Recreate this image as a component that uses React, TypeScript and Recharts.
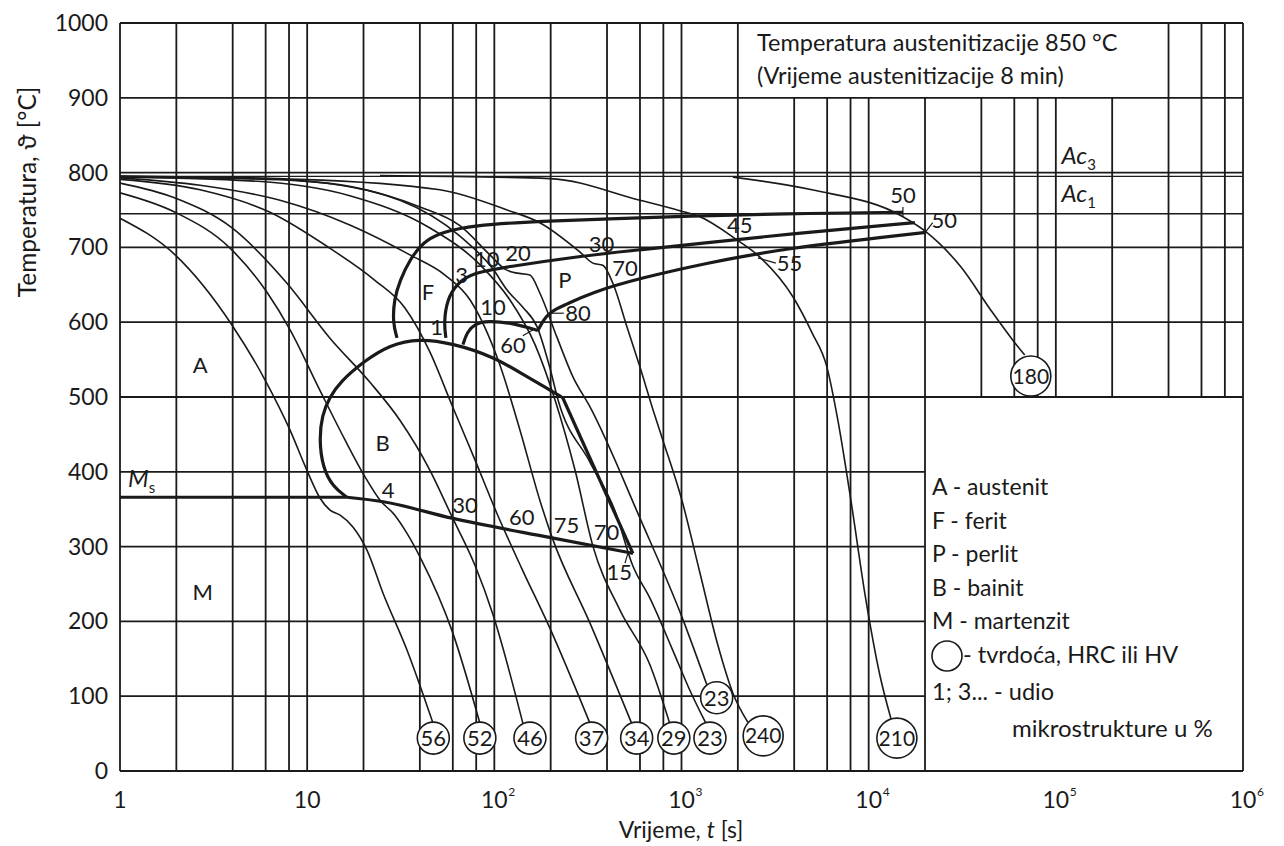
import React from 'react';
import { ComposedChart, Line, Scatter, XAxis, YAxis, ReferenceLine } from 'recharts';

type Pair = [number, number];

const INK = '#1a1a1a';

const timeTicks = [1, 10, 100, 1000, 10000, 100000, 1000000];
const tempTicks = [0, 100, 200, 300, 400, 500, 600, 700, 800, 900, 1000];

// printed grid: lines at 2, 4, 6, 8 of each decade, cut by the title and legend boxes
const gridFull = [2, 4, 6, 8, 10, 20, 40, 60, 80, 100, 200, 400, 600, 800, 1000, 2000];
const gridBelowTitle = [4000, 6000, 8000, 10000, 20000];
const gridAboveLegend = [40000, 60000, 80000, 100000, 200000];
const gridRight = [400000, 600000, 800000];
const tempFull = [500, 600, 700, 800, 900];
const tempLeft = [100, 200, 300, 400];
const acLines = [795, 745];

// cooling curves [t s, temperature °C], named after the hardness they end in
const cool56: Pair[] = [[1, 739], [1.97, 690], [3.97, 596], [5.95, 523], [8.09, 456], [9.97, 402], [11.7, 365], [13.2, 349], [15, 342], [17.6, 326], [20.9, 295], [25.4, 238], [34.1, 162], [47, 64]];
const cool52: Pair[] = [[1, 773], [1.97, 747], [3.87, 699], [6.1, 640], [8.09, 590], [11.7, 509], [15.9, 443], [20.4, 393], [24.5, 362], [29.4, 342], [34.1, 318], [40.1, 286], [60.1, 184], [83.7, 64]];
const cool46: Pair[] = [[1, 786], [1.97, 766], [3.97, 726], [7.8, 652], [13.2, 579], [21.6, 520], [31.3, 469], [45.3, 402], [59.4, 340], [78.8, 275], [98.4, 209], [142, 64]];
const cool37: Pair[] = [[1, 791], [2.68, 777], [6.33, 747], [13.2, 699], [23, 656], [33.3, 619], [45.3, 560], [59.4, 489], [78.8, 416], [103, 345], [140, 271], [198, 191], [324, 64]];
const cool34: Pair[] = [[1, 793], [2.68, 783], [7.16, 763], [16.9, 730], [35.4, 690], [54.5, 663], [74.1, 630], [107, 543], [137, 456], [175, 362], [203, 313], [324, 198], [543, 63]];
const cool29: Pair[] = [[1, 794], [4.95, 789], [16.9, 769], [45.3, 726], [83.7, 677], [121, 630], [165, 570], [211, 496], [270, 402], [336, 301], [469, 215], [678, 142], [867, 63]];
const cool23: Pair[] = [[1, 795], [9.15, 789], [31.3, 763], [65.5, 715], [98.4, 671], [117, 643], [142, 620], [169, 594], [198, 539], [219, 496], [324, 413], [441, 348], [550, 274], [678, 231], [889, 164], [1108, 108], [1349, 64]];
const cool23b: Pair[] = [[1, 795], [4.95, 793], [16.9, 781], [40.1, 754], [65.5, 729], [94.7, 690], [114, 671], [124, 667], [155, 663], [175, 639], [216, 580], [263, 527], [324, 487], [600, 338], [1005, 206], [1367, 115]];
const cool240: Pair[] = [[1, 795], [9.15, 791], [51.2, 777], [117, 750], [175, 733], [286, 694], [336, 679], [380, 676], [430, 652], [511, 594], [600, 540], [704, 483], [796, 442], [1005, 362], [1254, 265], [1565, 168], [1882, 104], [2264, 65]];
const cool210: Pair[] = [[24.5, 796], [198, 792], [600, 763], [980, 749], [1254, 741], [1977, 710], [2624, 687], [3937, 634], [4977, 586], [5984, 540], [6845, 469], [8035, 362], [9660, 229], [11480, 128], [13150, 70]];
const cool180: Pair[] = [[1882, 794], [4977, 777], [15240, 741], [19720, 723], [31070, 674], [44970, 616], [58900, 576], [68230, 556]];

// transformation lines
const ferriteStart: Pair[] = [[30.2, 579], [28.7, 599], [29.1, 630], [31.3, 656], [35.4, 684], [41.6, 707], [51.2, 719], [65.5, 726], [94.7, 731], [175, 735], [400, 738], [1108, 742], [3355, 745], [15240, 747]];
const pearliteStart: Pair[] = [[55.1, 579], [53.8, 599], [55.8, 630], [63.1, 652], [76.9, 666], [117, 674], [263, 687], [600, 697], [1367, 706], [3355, 717], [17650, 733]];
const pearliteEndLeft: Pair[] = [[68, 570], [71.4, 587], [78.8, 598], [91.2, 602], [126, 599], [171, 589]];
const pearliteEndRight: Pair[] = [[171, 589], [182, 602], [198, 614], [244, 624], [324, 639], [600, 659], [1367, 679], [3355, 698], [20230, 720]];
const bainiteNose: Pair[] = [[16.3, 366], [13.7, 380], [12.1, 406], [11.6, 443], [12, 476], [13.2, 500], [15, 520], [19.9, 547], [27.7, 570], [39.6, 578], [59.4, 572], [99.5, 554], [149, 527], [200, 509], [232, 499]];
const bainiteEdge: Pair[] = [[232, 499], [550, 291]];
const msFlat: Pair[] = [[1, 366], [16.3, 366]];
const msSlope: Pair[] = [[16.3, 366], [25.5, 360], [59.4, 338], [200, 312], [550, 291]];

// short leader strokes next to some numbers
const leaders: Pair[][] = [
  [[198, 612], [235, 612]],
  [[142, 582], [161, 590]],
  [[2560, 686], [3190, 679]],
  [[15240, 754], [15240, 741]],
  [[20200, 721], [22000, 733]],
  [[499, 278], [517, 291]],
];

const hardness = [
  { t: 47.2, T: 44, v: '56' },
  { t: 83.7, T: 44, v: '52' },
  { t: 155, T: 44, v: '46' },
  { t: 331, T: 44, v: '37' },
  { t: 576, T: 44, v: '34' },
  { t: 910, T: 44, v: '29' },
  { t: 1419, T: 44, v: '23' },
  { t: 1541, T: 98, v: '23' },
  { t: 2731, T: 47, v: '240' },
  { t: 14150, T: 44, v: '210' },
  { t: 73500, T: 528, v: '180' },
];

const notes = [
  { t: 44.2, T: 640, text: 'F' },
  { t: 49.2, T: 594, text: '1' },
  { t: 66.9, T: 663, text: '3' },
  { t: 91, T: 685, text: '10' },
  { t: 134, T: 692, text: '20' },
  { t: 374, T: 705, text: '30' },
  { t: 499, T: 672, text: '70' },
  { t: 238, T: 656, text: 'P' },
  { t: 98.4, T: 620, text: '10' },
  { t: 126, T: 569, text: '60' },
  { t: 280, T: 612, text: '80' },
  { t: 2050, T: 730, text: '45' },
  { t: 3776, T: 679, text: '55' },
  { t: 15240, T: 770, text: '50' },
  { t: 25350, T: 737, text: '50' },
  { t: 25.3, T: 438, text: 'B' },
  { t: 27.1, T: 376, text: '4' },
  { t: 69.7, T: 356, text: '30' },
  { t: 140, T: 340, text: '60' },
  { t: 243, T: 329, text: '75' },
  { t: 398, T: 320, text: '70' },
  { t: 465, T: 266, text: '15' },
  { t: 2.68, T: 543, text: 'A' },
  { t: 2.77, T: 239, text: 'M' },
];

const subLabels = [
  { t: 1.104, T: 380, base: 'M', sub: 's' },
  { t: 107200, T: 812, base: 'Ac', sub: '3' },
  { t: 107200, T: 761, base: 'Ac', sub: '1' },
];

const legendRows = ['A - austenit', 'F - ferit', 'P - perlit', 'B - bainit', 'M - martenzit'];

const toPts = (a: Pair[]) => a.map(([t, T]) => ({ t, T }));

const coolingCurves = [cool56, cool52, cool46, cool37, cool34, cool29, cool23, cool23b, cool240, cool210, cool180];

const TimeTick = ({ x, y, payload }: any) => {
  const v = payload.value as number;
  const e = Math.round(Math.log10(v));
  return (
    <g>
      <text x={x} y={y + 37} textAnchor='middle' fontSize={23} fill={INK}>
        {e < 2 ? String(v) : '10'}
      </text>
      {e >= 2 && (
        <text x={x + 14} y={y + 25} fontSize={12} fill={INK}>
          {e}
        </text>
      )}
    </g>
  );
};

const TempTick = ({ x, y, payload }: any) => (
  <text x={x - 12} y={y + 8} textAnchor='end' fontSize={23} fill={INK}>
    {payload.value}
  </text>
);

const NoteShape = (p: any) => (
  <text x={p.cx} y={p.cy} dy='0.36em' textAnchor='middle' fontSize={22} fill={INK}>
    {p.payload.text}
  </text>
);

const HardShape = (p: any) => {
  const big = p.payload.v.length > 2;
  return (
    <g>
      <circle cx={p.cx} cy={p.cy} r={big ? 20 : 16} fill='#fff' stroke={INK} strokeWidth={1.6} />
      <text x={p.cx} y={p.cy} dy='0.36em' textAnchor='middle' fontSize={big ? 21 : 22} fill={INK}>
        {p.payload.v}
      </text>
    </g>
  );
};

const SubShape = (p: any) => (
  <text x={p.cx} y={p.cy} fontSize={24} fontStyle='italic' fill={INK}>
    {p.payload.base}
    <tspan fontSize={15} fontStyle='normal' dy={6}>
      {p.payload.sub}
    </tspan>
  </text>
);

export default function App() {
  const vSegs: number[][] = [
    [1, 0, 1000],
    [1000000, 0, 1000],
    ...gridFull.map((t) => [t, 0, 1000]),
    ...gridBelowTitle.map((t) => [t, 0, 900]),
    ...gridAboveLegend.map((t) => [t, 500, 900]),
    ...gridRight.map((t) => [t, 500, 1000]),
  ];
  const hSegs: number[][] = [
    [0, 1, 1000000],
    [1000, 1, 1000000],
    ...tempFull.map((T) => [T, 1, 1000000]),
    ...tempLeft.map((T) => [T, 1, 20000]),
  ];

  const thin = { stroke: INK, strokeWidth: 1.6, dot: false, activeDot: false, isAnimationActive: false } as const;
  const thick = { stroke: INK, strokeWidth: 3.2, dot: false, activeDot: false, isAnimationActive: false } as const;

  return (
    <div
      style={{
        position: 'absolute',
        left: 0,
        top: 0,
        width: 1284,
        height: 846,
        background: '#fff',
        fontFamily: 'Lato, "Open Sans", sans-serif',
      }}
    >
      <ComposedChart width={1284} height={846} margin={{ top: 23, right: 41, bottom: 30, left: 60 }}>
        <XAxis
          type='number'
          dataKey='t'
          scale='log'
          domain={[1, 1000000]}
          allowDataOverflow
          ticks={timeTicks}
          interval={0}
          tick={TimeTick}
          height={45}
          tickSize={0}
          tickMargin={0}
          axisLine={false}
          tickLine={false}
        />
        <YAxis
          type='number'
          dataKey='T'
          domain={[0, 1000]}
          ticks={tempTicks}
          interval={0}
          tick={TempTick}
          width={60}
          tickSize={0}
          tickMargin={0}
          axisLine={false}
          tickLine={false}
        />

        {vSegs.map(([t, a, b], i) => (
          <ReferenceLine
            key={'v' + i}
            segment={[{ x: t, y: a }, { x: t, y: b }]}
            stroke={INK}
            strokeWidth={1.8}
            ifOverflow='visible'
          />
        ))}
        {hSegs.map(([T, a, b], i) => (
          <ReferenceLine
            key={'h' + i}
            segment={[{ x: a, y: T }, { x: b, y: T }]}
            stroke={INK}
            strokeWidth={1.8}
            ifOverflow='visible'
          />
        ))}
        {acLines.map((T) => (
          <ReferenceLine key={'ac' + T} y={T} stroke={INK} strokeWidth={1.4} ifOverflow='visible' />
        ))}

        {coolingCurves.map((c, i) => (
          <Line key={'cool' + i} data={toPts(c)} dataKey='T' type='monotone' {...thin} />
        ))}

        <Line data={toPts(ferriteStart)} dataKey='T' type='basis' {...thick} />
        <Line data={toPts(pearliteStart)} dataKey='T' type='basis' {...thick} />
        <Line data={toPts(pearliteEndLeft)} dataKey='T' type='basis' {...thick} />
        <Line data={toPts(pearliteEndRight)} dataKey='T' type='basis' {...thick} />
        <Line data={toPts(bainiteNose)} dataKey='T' type='basis' {...thick} />
        <Line data={toPts(bainiteEdge)} dataKey='T' type='linear' {...thick} />
        <Line data={toPts(msFlat)} dataKey='T' type='linear' {...thick} />
        <Line data={toPts(msSlope)} dataKey='T' type='monotone' {...thick} />

        {leaders.map((l, i) => (
          <Line key={'ld' + i} data={toPts(l)} dataKey='T' type='linear' {...thin} strokeWidth={1.2} />
        ))}

        <Scatter data={notes} shape={NoteShape} isAnimationActive={false} />
        <Scatter data={subLabels} shape={SubShape} isAnimationActive={false} />
        <Scatter data={hardness} shape={HardShape} isAnimationActive={false} />
      </ComposedChart>

      <svg
        width={1284}
        height={846}
        style={{ position: 'absolute', left: 0, top: 0, pointerEvents: 'none' }}
        fontFamily='Lato, "Open Sans", sans-serif'
        fill={INK}
      >
        <text transform='translate(27,192) rotate(-90)' textAnchor='middle' dy='0.35em' fontSize={24.5}>
          Temperatura, ϑ [°C]
        </text>
        <text x={681} y={838} textAnchor='middle' fontSize={23}>
          Vrijeme, <tspan fontStyle='italic'>t</tspan> [s]
        </text>

        <text x={757} y={51} fontSize={23.5}>
          Temperatura austenitizacije 850 °C
        </text>
        <text x={757} y={84} fontSize={23.5}>
          (Vrijeme austenitizacije 8 min)
        </text>

        {legendRows.map((r, i) => (
          <text key={r} x={932} y={495 + i * 33.5} fontSize={23}>
            {r}
          </text>
        ))}
        <circle cx={947} cy={656} r={15} fill='#fff' stroke={INK} strokeWidth={1.6} />
        <text x={963} y={663} fontSize={23.5}>
          - tvrdoća, HRC ili HV
        </text>
        <text x={932} y={700} fontSize={23.5}>
          1; 3... - udio
        </text>
        <text x={1012} y={737} fontSize={24}>
          mikrostrukture u %
        </text>
      </svg>
    </div>
  );
}
